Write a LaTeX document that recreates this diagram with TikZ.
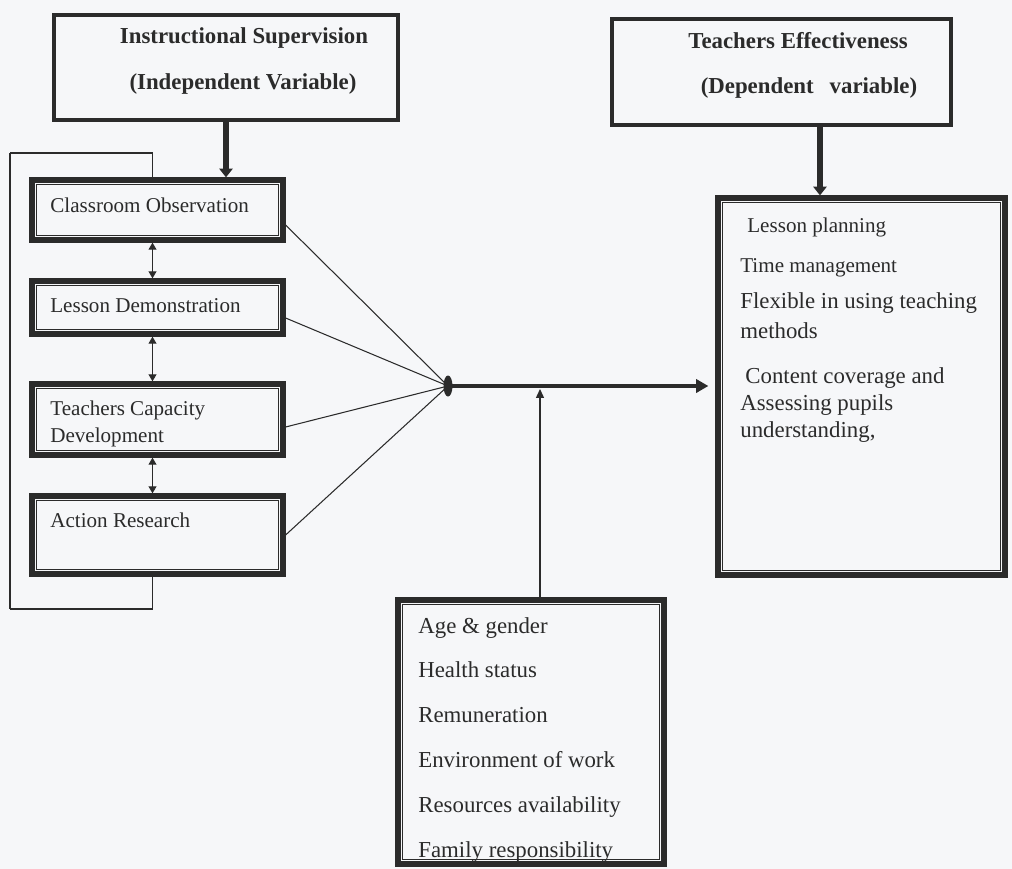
\documentclass[tikz,border=0pt]{standalone}
\usepackage{fontspec}
\setmainfont{Liberation Serif}
\usepackage{tikz}
\usetikzlibrary{arrows.meta,shapes.geometric}
\definecolor{ink}{HTML}{2B2B2B}
\definecolor{paper}{HTML}{F6F7F9}

\tikzset{
  headbox/.style={draw=ink, line width=2.6pt, inner sep=0pt},
  framebox/.style={draw=ink, line width=3pt, inner sep=0pt},
  inframe/.style={draw=ink, line width=0.6pt},
  txt/.style={anchor=base west, inner sep=0pt, text=ink},
  bigtxt/.style={txt, font=\fontsize{13}{15}\selectfont},
  headtxt/.style={anchor=base, inner sep=0pt, text=ink, font=\fontsize{13}{15}\selectfont\bfseries},
  link/.style={draw=ink, line width=0.6pt},
  heavy/.style={draw=ink, line width=2.6pt},
}

\begin{document}
\begin{tikzpicture}[x=0.02cm, y=-0.02cm, font=\fontsize{12}{14}\selectfont]
\path[use as bounding box, fill=paper] (0,0) rectangle (1012,869);

% heading boxes
\node[headbox, minimum width=6.88cm, minimum height=2.1cm] (indep) at (226,67.5) {};
\node[headtxt] (indep1) at (244,43) {Instructional Supervision};
\node[headtxt] (indep2) at (243,89) {(Independent Variable)};
\node[headbox, minimum width=6.78cm, minimum height=2.12cm] (dep) at (781.5,72) {};
\node[headtxt] (dep1) at (798,48) {Teachers Effectiveness};
\node[headtxt] (dep2) at (809,93) {(Dependent\hspace{0.7em}variable)};

% framed boxes
\node[framebox, minimum width=5.02cm, minimum height=1.2cm] (obs) at (157.5,210) {};
\node[framebox, minimum width=5.02cm, minimum height=1.06cm] (demo) at (157.5,307.5) {};
\node[framebox, minimum width=5.02cm, minimum height=1.42cm] (cap) at (157.5,419.5) {};
\node[framebox, minimum width=5.02cm, minimum height=1.56cm] (act) at (157.5,535) {};
\node[framebox, minimum width=5.74cm, minimum height=7.54cm] (eff) at (861.5,386.5) {};
\node[framebox, minimum width=5.32cm, minimum height=5.28cm] (fac) at (531,732) {};
\foreach \b in {obs,demo,cap,act,eff,fac}
  \draw[inframe] ([shift={(0.14cm,-0.14cm)}]\b.north west) rectangle ([shift={(-0.14cm,0.14cm)}]\b.south east);

% texts
\node[txt] (obstxt) at (50,212) {Classroom Observation};
\node[txt] (demotxt) at (50,312) {Lesson Demonstration};
\node[txt] (captxt1) at (50,415) {Teachers Capacity};
\node[txt] (captxt2) at (50,442) {Development};
\node[txt] (acttxt) at (50,527) {Action Research};

\node[txt] (eff1) at (747,232) {Lesson planning};
\node[txt] (eff2) at (740,272) {Time management};
\node[bigtxt] (eff3) at (740,308) {Flexible in using teaching};
\node[bigtxt] (eff4) at (740,338) {methods};
\node[bigtxt] (eff5) at (745,383) {Content coverage and};
\node[bigtxt] (eff6) at (740,410) {Assessing pupils};
\node[bigtxt] (eff7) at (740,437) {understanding,};

\foreach \y/\t [count=\i] in {633/Age \& gender, 677/Health status, 722/Remuneration,
    767/Environment of work, 812/Resources availability, 857/Family responsibility}
  \node[bigtxt] (factor\i) at (418,\y) {\t};

% hub and connectors
\node[ellipse, fill=ink, inner sep=0pt, minimum width=0.18cm, minimum height=0.42cm] (hub) at (448,386) {};
\coordinate (join) at (540,389);
\foreach \b/\y in {obs/225, demo/318, cap/427, act/535}
  \draw[link] (\b.east |- 0,\y) -- (hub.center);
\draw[heavy, -{Triangle[length=7pt,width=7.5pt]}, shorten >=0.14cm] (hub.center) -- (hub.center -| eff.west);
\draw[link, -{Triangle[length=5pt,width=4.5pt]}] (fac.north -| join) -- (join);

\draw[heavy, line width=3pt, -{Triangle[length=5pt,width=7.5pt]}] (indep.south) -- (indep.south |- obs.north);
\draw[heavy, line width=3pt, -{Triangle[length=5pt,width=7.5pt]}] ([xshift=0.77cm]dep.south) -- ([xshift=0.77cm]dep.south |- eff.north);

\foreach \a/\b in {obs/demo, demo/cap, cap/act}
  \draw[link, {Triangle[length=4pt,width=4.5pt]}-{Triangle[length=4pt,width=4.5pt]}] ([xshift=-0.1cm]\a.south) -- ([xshift=-0.1cm]\b.north);

% left bracket
\coordinate (brtop) at (10,153);
\coordinate (brbot) at (10,609);
\draw[link] ([xshift=-0.1cm]obs.north) |- (brtop);
\draw[link] ([xshift=-0.1cm]act.south) |- (brbot);
\draw[ink, line width=1.6pt] (brtop) -- (brbot);
\end{tikzpicture}
\end{document}
